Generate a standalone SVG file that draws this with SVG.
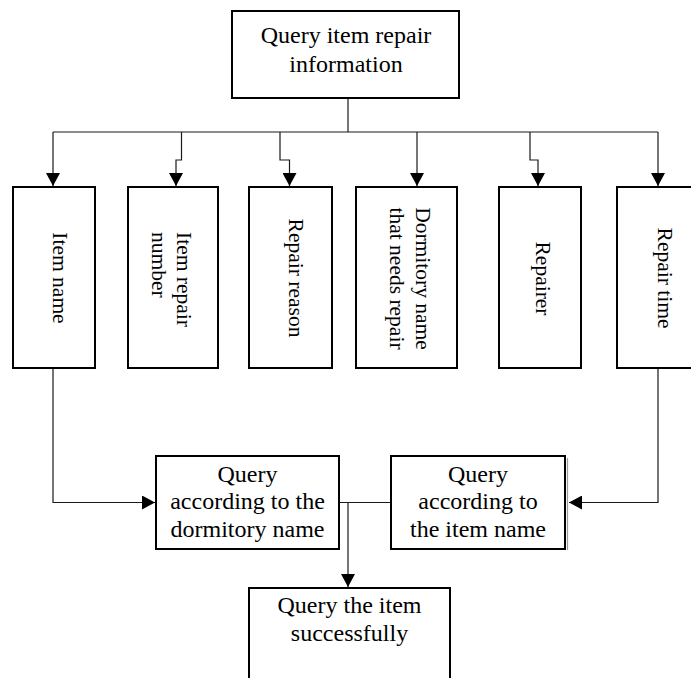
<svg xmlns="http://www.w3.org/2000/svg" width="691" height="678" viewBox="0 0 691 678">
  <style>
    .box { fill: #ffffff; stroke: #000000; stroke-width: 2; }
    .edge { fill: none; stroke: #1a1a1a; stroke-width: 1.2; }
    .lbl { font-family: "Liberation Serif", "Times New Roman", serif; font-size: 24px; fill: #000000; text-anchor: middle; }
    .vlbl { font-family: "Liberation Serif", "Times New Roman", serif; font-size: 21.5px; fill: #000000; text-anchor: middle; }
  </style>
  <defs>
    <marker id="arr" markerWidth="14" markerHeight="14" refX="13" refY="7" orient="auto" markerUnits="userSpaceOnUse">
      <path d="M0,0 L13,7 L0,14 z" fill="#000000"/>
    </marker>
  </defs>

  <rect width="691" height="678" fill="#ffffff"/>

  <!-- connectors -->
  <g id="connectors" class="edges">
    <path class="edge" d="M348,98 V132"/>
    <path class="edge" d="M53,132 H658"/>
    <path class="edge" d="M53,132 V186" marker-end="url(#arr)"/>
    <path class="edge" d="M181.5,132 V160 H176 V186" marker-end="url(#arr)"/>
    <path class="edge" d="M280,132 V160 H289.5 V186" marker-end="url(#arr)"/>
    <path class="edge" d="M417,132 V186" marker-end="url(#arr)"/>
    <path class="edge" d="M530,132 V160 H538 V186" marker-end="url(#arr)"/>
    <path class="edge" d="M658,132 V186" marker-end="url(#arr)"/>
    <path class="edge" d="M53,368 V502.5 H155" marker-end="url(#arr)"/>
    <path class="edge" d="M658,368 V502.5 H569" marker-end="url(#arr)"/>
    <path class="edge" d="M339,502.5 H391"/>
    <path class="edge" d="M348,502.5 V587" marker-end="url(#arr)"/>
  </g>

  <!-- top node -->
  <g id="query-repair-info">
    <rect class="box" x="232" y="11" width="227" height="87"/>
    <text class="lbl" x="346" y="43">Query item repair</text>
    <text class="lbl" x="346" y="71.5">information</text>
  </g>

  <!-- field nodes -->
  <g id="item-name">
    <rect class="box" x="13" y="187" width="82" height="181"/>
    <text class="vlbl" transform="translate(52.5,278) rotate(90)">Item name</text>
  </g>
  <g id="item-repair-number">
    <rect class="box" x="128" y="187" width="90" height="181"/>
    <text class="vlbl" style="text-anchor:start" transform="translate(177,232) rotate(90)">Item repair</text>
    <text class="vlbl" style="text-anchor:start" transform="translate(151.5,232) rotate(90)">number</text>
  </g>
  <g id="repair-reason">
    <rect class="box" x="249" y="187" width="83" height="181"/>
    <text class="vlbl" transform="translate(289,278) rotate(90)">Repair reason</text>
  </g>
  <g id="dormitory-name">
    <rect class="box" x="356" y="187" width="101" height="181"/>
    <text class="vlbl" transform="translate(415.5,278.5) rotate(90)">Dormitory name</text>
    <text class="vlbl" transform="translate(390,278.5) rotate(90)">that needs repair</text>
  </g>
  <g id="repairer">
    <rect class="box" x="499" y="187" width="82" height="181"/>
    <text class="vlbl" transform="translate(536,278.5) rotate(90)">Repairer</text>
  </g>
  <g id="repair-time">
    <rect class="box" x="617" y="187" width="90" height="181"/>
    <text class="vlbl" transform="translate(658,278) rotate(90)">Repair time</text>
  </g>

  <!-- query nodes -->
  <g id="query-by-dormitory">
    <rect class="box" x="156" y="456" width="183" height="93"/>
    <text class="lbl" x="247.5" y="481.5">Query</text>
    <text class="lbl" x="247.5" y="509">according to the</text>
    <text class="lbl" x="247.5" y="536.5">dormitory name</text>
  </g>
  <g id="query-by-item">
    <rect class="box" x="391" y="456" width="174" height="93"/>
    <line x1="567.5" y1="458" x2="567.5" y2="550" stroke="#9a9a9a" stroke-width="1.2"/>
    <text class="lbl" x="478" y="481.5">Query</text>
    <text class="lbl" x="478" y="509">according to</text>
    <text class="lbl" x="478" y="536.5">the item name</text>
  </g>

  <!-- result node -->
  <g id="query-success">
    <rect class="box" x="249" y="588" width="201" height="110"/>
    <text class="lbl" x="349.5" y="613">Query the item</text>
    <text class="lbl" x="349.5" y="641">successfully</text>
  </g>
</svg>
